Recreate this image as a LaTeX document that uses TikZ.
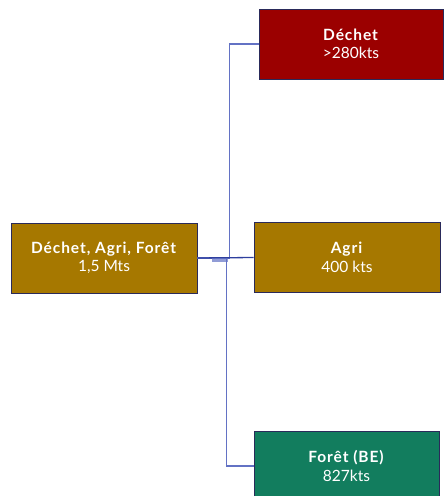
\documentclass[tikz,border=0pt]{standalone}
\usepackage{fontspec}
\setmainfont{Lato}[BoldFeatures={LetterSpace=6}]
\definecolor{gold}{HTML}{A67800}
\definecolor{wine}{HTML}{9B0000}
\definecolor{pine}{HTML}{127D5E}
\definecolor{edge}{HTML}{2A2A5A}
\definecolor{wire}{HTML}{2E3F9E}
\definecolor{wirelight}{HTML}{6372C4}
\begin{document}
\begin{tikzpicture}[
    x=1pt, y=-1pt,
    every node/.style={draw=edge, line width=0.8pt, minimum width=186pt,
        minimum height=70pt, align=center, text=white, font=\fontsize{15.5}{18.5}\selectfont},
    link/.style={draw=wire, line width=1.3pt},
    linklight/.style={draw=wirelight, line width=1.3pt}
]
\useasboundingbox (0,0) rectangle (445,496);
\node[fill=gold] (src) at (104,258) {\textbf{Déchet, Agri, Forêt}\\1,5 Mts};
\node[fill=wine, minimum width=184pt] (dechet) at (351,44) {\textbf{Déchet}\\>280kts};
\node[fill=gold] (agri) at (347,257.5) {\textbf{Agri}\\400 kts};
\node[fill=pine, minimum width=185pt] (foret) at (346.5,466) {\textbf{Forêt (BE)}\\827kts};
% connectors
\draw[linklight] (src.east) -- ++(32,0) |- (dechet.west);
\draw[linklight] (src.east) -- ++(29,0) |- (foret.west);
\draw[link] (src.east) -- (agri.west);
\fill[wirelight, opacity=0.7] (212,258) rectangle (228,261.5);
\end{tikzpicture}
\end{document}
